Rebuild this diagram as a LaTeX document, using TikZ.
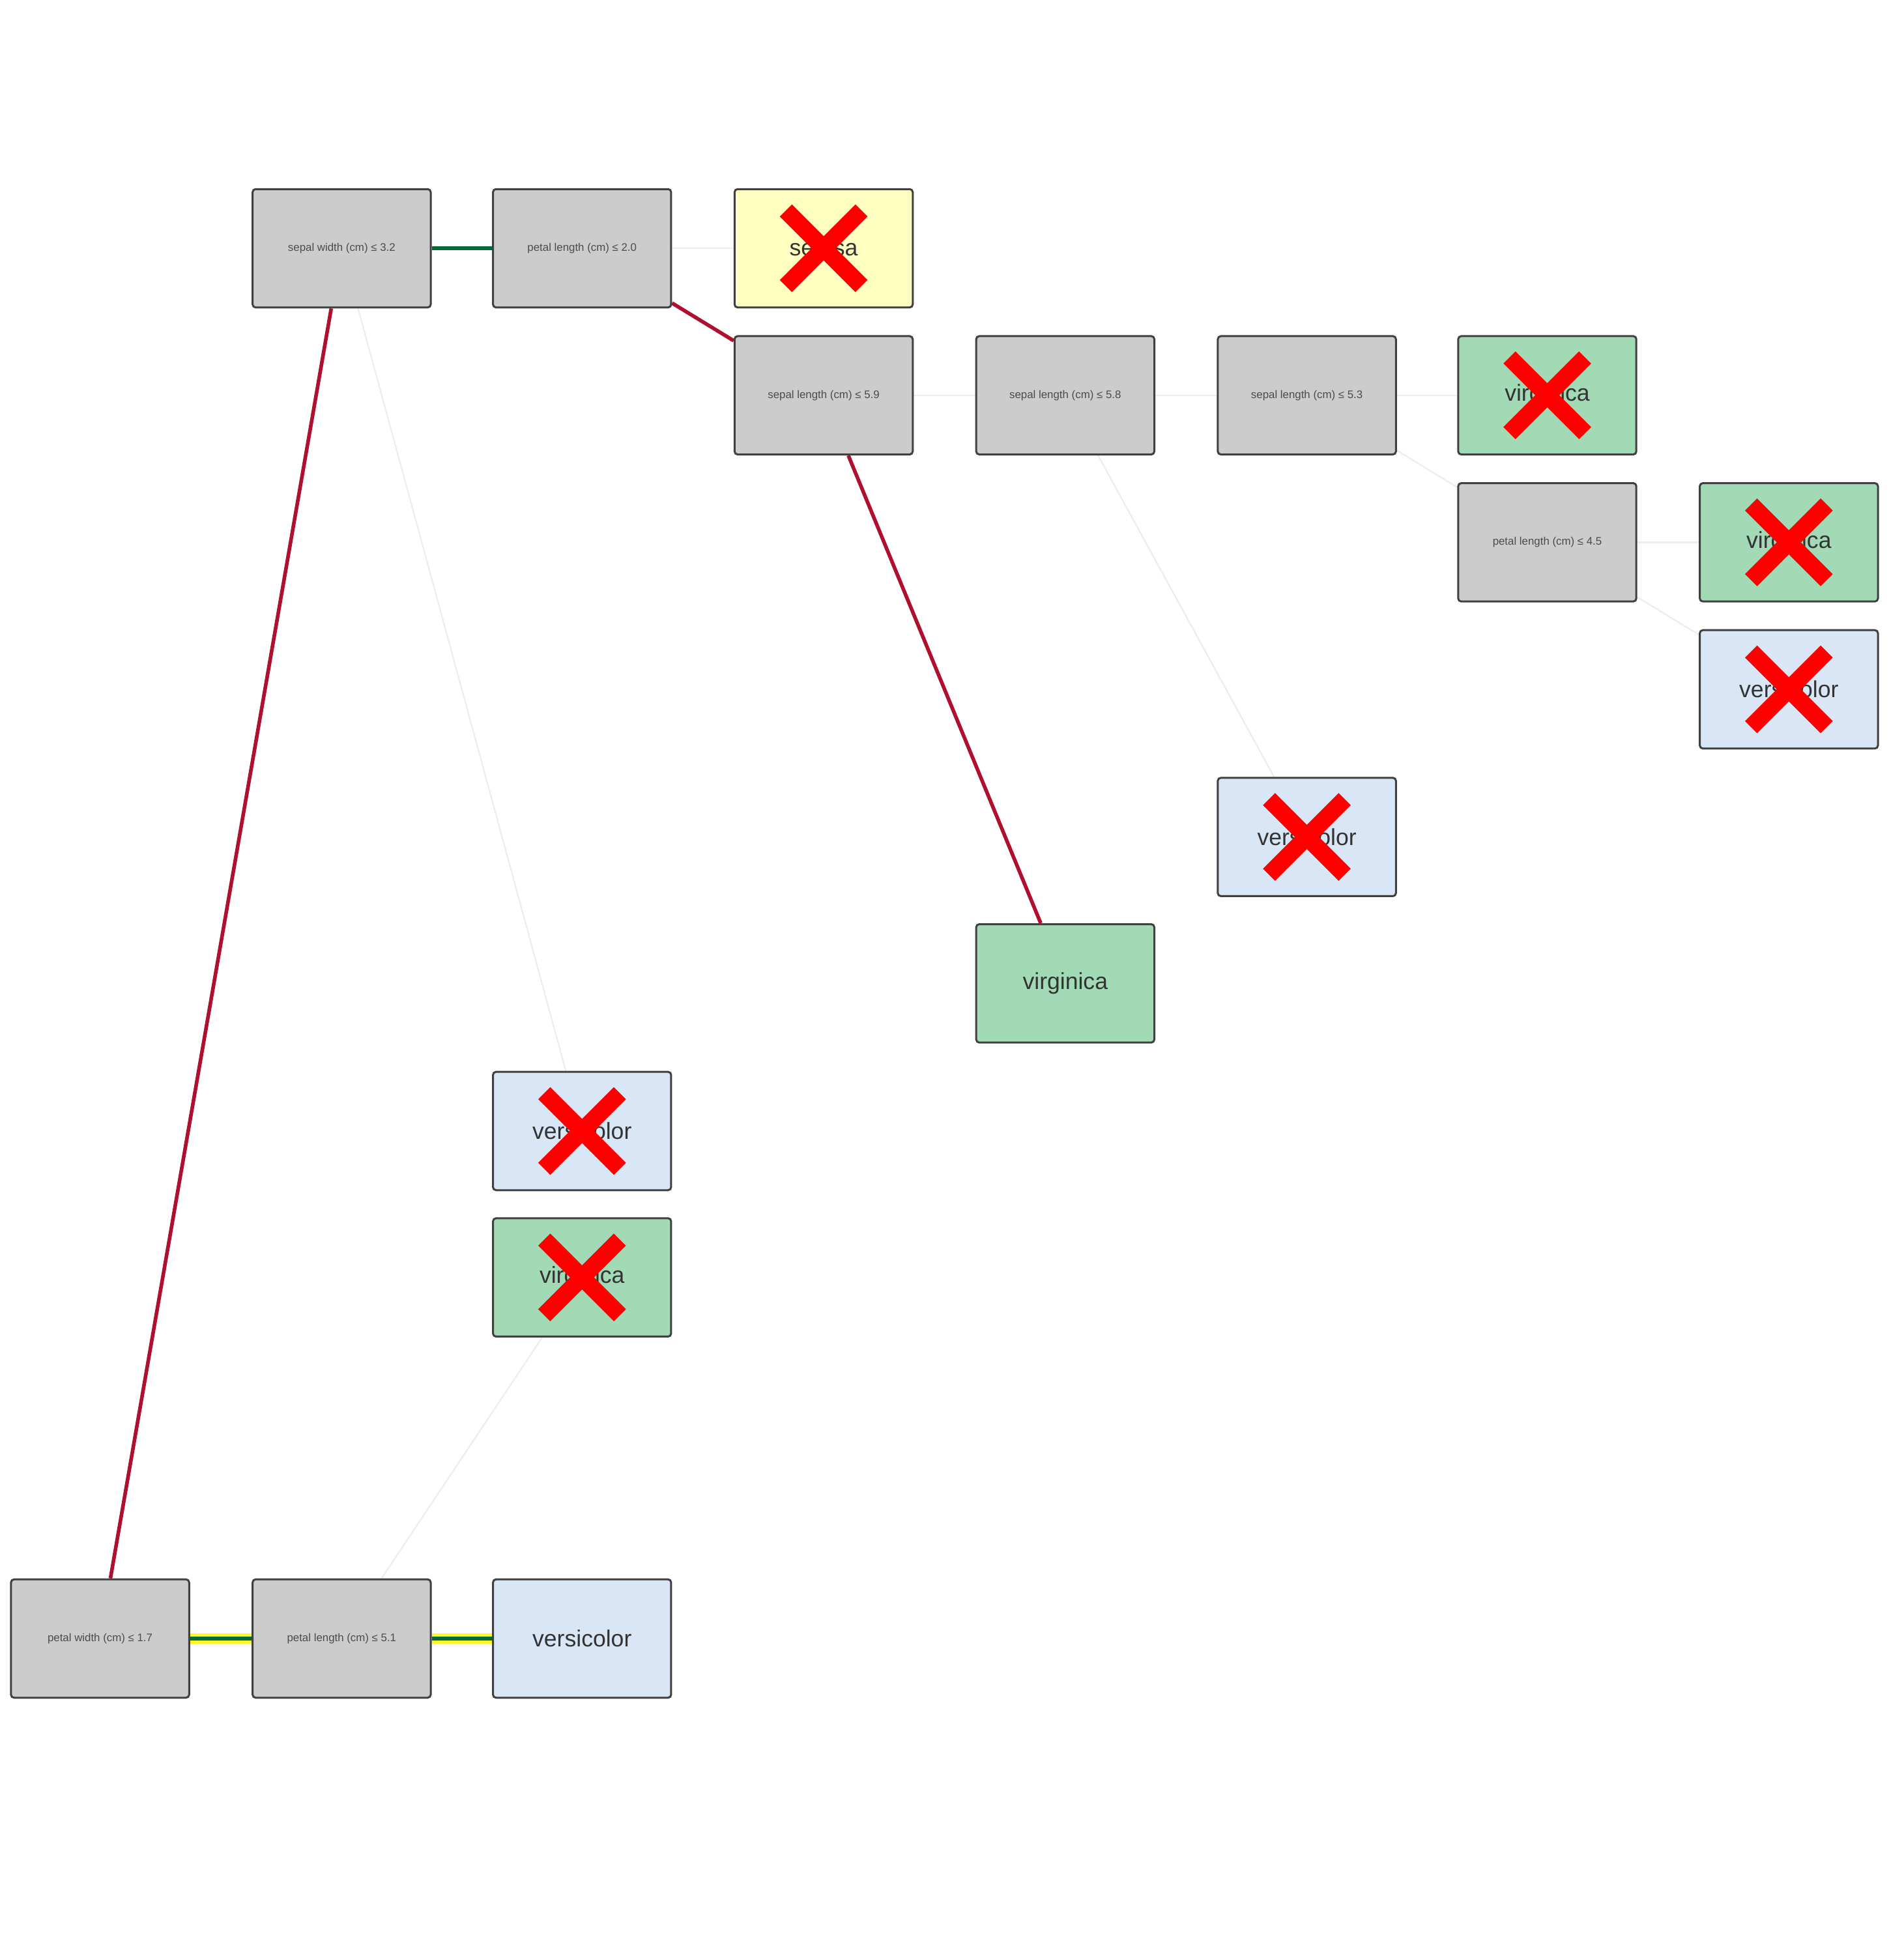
\documentclass[tikz,border=0pt]{standalone}
\usepackage{fontspec}
\setmainfont{Liberation Sans}
\usetikzlibrary{backgrounds}
\definecolor{crim}{HTML}{B0102F}
\definecolor{dgreen}{HTML}{006B3A}
\definecolor{faint}{HTML}{EDEDED}
\definecolor{ngrey}{HTML}{CCCCCC}
\definecolor{nyel}{HTML}{FFFFC2}
\definecolor{ngreen}{HTML}{A1DAB4}
\definecolor{nblue}{HTML}{D9E6F5}
\tikzset{
 box/.style={draw=black!75,line width=1.6pt,rounded corners=2.5pt,minimum width=146pt,minimum height=97pt,inner sep=0pt,text=black!70},
 split/.style={box,fill=ngrey,font=\fontsize{9}{10}\selectfont},
 leaf/.style={box,font=\fontsize{19}{21}\selectfont,text=black!80},
 set/.style={leaf,fill=nyel}, vir/.style={leaf,fill=ngreen}, ver/.style={leaf,fill=nblue},
 hot/.style={crim,line width=3pt},
 weak/.style={faint,line width=1.2pt},
 dbl/.style={yellow!85!white,line width=9pt},
 dblin/.style={dgreen,line width=3.5pt},
 xm/.style={red,line width=14pt}
}
\newcommand{\xmark}[1]{\draw[xm] ([shift={(-31pt,31pt)}]#1.center) -- ([shift={(31pt,-31pt)}]#1.center); \draw[xm] ([shift={(-31pt,-31pt)}]#1.center) -- ([shift={(31pt,31pt)}]#1.center);}
\begin{document}
\begin{tikzpicture}[x=1pt,y=-1pt]
\useasboundingbox (0,0) rectangle (1560,1586);
\node[split] (A) at (280,203.5) {sepal width (cm) ≤ 3.2};
\node[split] (B) at (477,203.5) {petal length (cm) ≤ 2.0};
\node[set] (C) at (675,203.5) {setosa};
\node[split] (D) at (675,324) {sepal length (cm) ≤ 5.9};
\node[split] (E) at (873,324) {sepal length (cm) ≤ 5.8};
\node[split] (F) at (1071,324) {sepal length (cm) ≤ 5.3};
\node[vir] (G) at (1268,324) {virginica};
\node[split] (H) at (1268,444.5) {petal length (cm) ≤ 4.5};
\node[vir] (I) at (1466,444.5) {virginica};
\node[ver] (J) at (1466,565) {versicolor};
\node[ver] (K) at (1071,686) {versicolor};
\node[vir] (L) at (873,806) {virginica};
\node[ver] (M) at (477,927) {versicolor};
\node[vir] (N) at (477,1047) {virginica};
\node[split] (O) at (82,1343) {petal width (cm) ≤ 1.7};
\node[split] (P) at (280,1343) {petal length (cm) ≤ 5.1};
\node[ver] (Q) at (477,1343) {versicolor};
\begin{scope}[on background layer]
\draw[dgreen,line width=3.5pt] (A) -- (B);
\draw[weak] (B) -- (C);
\draw[hot] (B) -- (D);
\draw[weak] (D) -- (E);
\draw[weak] (E) -- (F);
\draw[weak] (F) -- (G);
\draw[weak] (F) -- (H);
\draw[weak] (H) -- (I);
\draw[weak] (H) -- (J);
\draw[hot] (D) -- (L);
\draw[weak] (E) -- (K);
\draw[hot] (A) -- (O);
\draw[weak] (A) -- (M);
\draw[weak] (P) -- (N);
\draw[dbl] (O) -- (P); \draw[dblin] (O) -- (P);
\draw[dbl] (P) -- (Q); \draw[dblin] (P) -- (Q);
\end{scope}
\xmark{C}\xmark{G}\xmark{I}\xmark{J}\xmark{K}\xmark{M}\xmark{N}
\end{tikzpicture}
\end{document}
